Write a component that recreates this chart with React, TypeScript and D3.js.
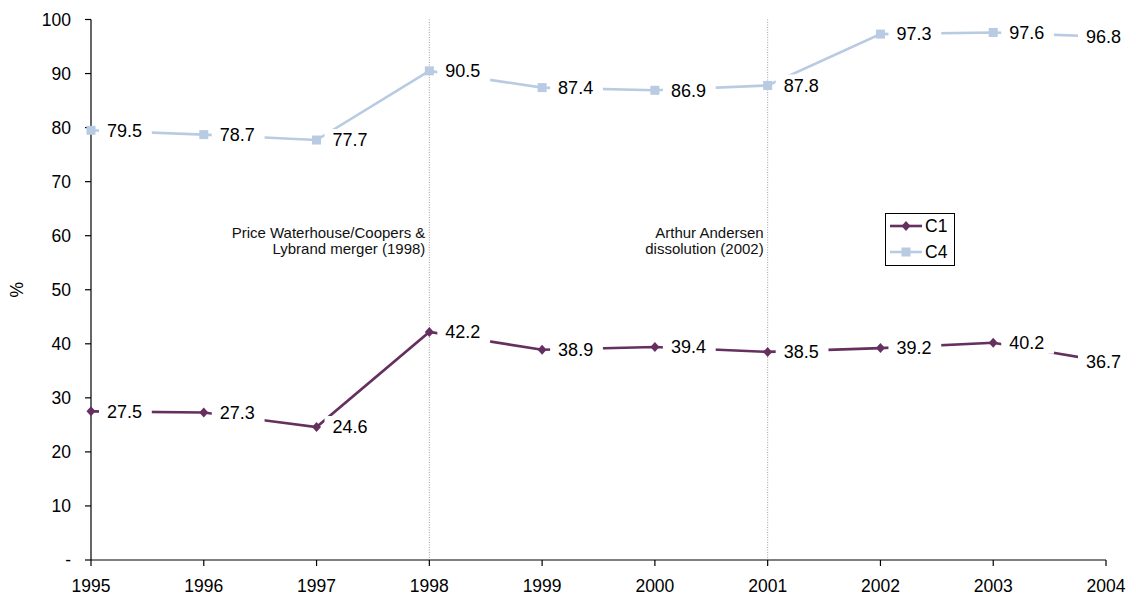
import React from "react";
import * as d3 from "d3";

const years = [1995, 1996, 1997, 1998, 1999, 2000, 2001, 2002, 2003, 2004];
const c1 = [27.5, 27.3, 24.6, 42.2, 38.9, 39.4, 38.5, 39.2, 40.2, 36.7];
const c4 = [79.5, 78.7, 77.7, 90.5, 87.4, 86.9, 87.8, 97.3, 97.6, 96.8];
const yTicks = [0, 10, 20, 30, 40, 50, 60, 70, 80, 90, 100];
const events = [
  { year: 1998, lines: ["Price Waterhouse/Coopers &", "Lybrand merger (1998)"] },
  { year: 2001, lines: ["Arthur Andersen", "dissolution (2002)"] },
];
const seriesNames = ["C1", "C4"];

const W = 1136;
const H = 596;
const FONT = "'Liberation Sans', Arial, sans-serif";
const C1_COLOR = "#65305f";
const C4_COLOR = "#b8cbe2";

export default function App() {
  const x = d3.scaleLinear().domain([1995, 2004]).range([91, 1106]);
  const y = d3.scaleLinear().domain([0, 100]).range([560, 19.5]);
  const line = d3
    .line<number>()
    .x((_, i) => x(years[i]))
    .y((d) => y(d));

  const series = [
    { name: seriesNames[0], data: c1, color: C1_COLOR, marker: "diamond" },
    { name: seriesNames[1], data: c4, color: C4_COLOR, marker: "square" },
  ];

  const labelW = (s: string) => s.length * 9.2;

  const marker = (type: string, cx: number, cy: number, color: string, key: string) =>
    type === "diamond" ? (
      <path
        key={key}
        d={`M${cx},${cy - 5} L${cx + 4.5},${cy} L${cx},${cy + 5} L${cx - 4.5},${cy} Z`}
        fill={color}
      />
    ) : (
      <rect key={key} x={cx - 4.5} y={cy - 4.5} width={9} height={9} fill={color} />
    );

  return (
    <svg
      width={W}
      height={H}
      style={{ position: "absolute", left: 0, top: 0, background: "#fff" }}
      fontFamily={FONT}
    >
      {/* event lines */}
      {events.map((e) => (
        <line
          key={e.year}
          x1={x(e.year)}
          x2={x(e.year)}
          y1={y(100)}
          y2={y(0)}
          stroke="#a0a0a0"
          strokeWidth={1}
          strokeDasharray="1,1.5"
        />
      ))}
      {events.map((e) => (
        <text key={"t" + e.year} fontSize={15} fill="#111" textAnchor="end">
          {e.lines.map((l, i) => (
            <tspan key={i} x={x(e.year) - 4} y={238 + i * 15.5}>
              {l}
            </tspan>
          ))}
        </text>
      ))}

      {/* axes */}
      <line x1={x(1995)} x2={x(1995)} y1={y(100)} y2={y(0)} stroke="#000" strokeWidth={1.2} />
      <line x1={x(1995)} x2={x(2004)} y1={y(0)} y2={y(0)} stroke="#000" strokeWidth={1.2} />
      {yTicks.map((t) => (
        <g key={"y" + t}>
          <line x1={x(1995) - 6} x2={x(1995)} y1={y(t)} y2={y(t)} stroke="#000" strokeWidth={1.2} />
          <text
            x={71}
            y={y(t)}
            dy="0.35em"
            fontSize={17.5}
            textAnchor="end"
            fill="#000"
          >
            {t === 0 ? "-" : t}
          </text>
        </g>
      ))}
      {years.map((yr) => (
        <g key={"x" + yr}>
          <line x1={x(yr)} x2={x(yr)} y1={y(0)} y2={y(0) + 6} stroke="#000" strokeWidth={1.2} />
          <text x={x(yr)} y={592} fontSize={17.5} textAnchor="middle" fill="#000">
            {yr}
          </text>
        </g>
      ))}
      <text
        transform={`translate(23,${y(50)}) rotate(-90)`}
        fontSize={17.5}
        textAnchor="middle"
        fill="#000"
      >
        %
      </text>

      {/* series */}
      {series.map((s) => (
        <g key={s.name}>
          <path d={line(s.data) || ""} fill="none" stroke={s.color} strokeWidth={2.6} />
          {s.data.map((v, i) => marker(s.marker, x(years[i]), y(v), s.color, s.name + i))}
        </g>
      ))}
      {series.map((s) =>
        s.data.map((v, i) => {
          const px = x(years[i]);
          const py = y(v);
          const label = v.toFixed(1);
          const w = labelW(label);
          const tx = i === years.length - 1 ? px - 20 : px + 16;
          return (
            <g key={"l" + s.name + i}>
              <rect x={tx - 8} y={py - 11} width={w + 16} height={22} fill="#fff" />
              <text x={tx} y={py} dy="0.35em" fontSize={18} fill="#000">
                {label}
              </text>
            </g>
          );
        })
      )}

      {/* legend */}
      <rect x={885.5} y={213.5} width={69} height={52} fill="#fff" stroke="#000" strokeWidth={1} />
      {series.map((s, i) => {
        const ly = 226 + i * 26;
        return (
          <g key={"lg" + s.name}>
            <line x1={890} x2={922} y1={ly} y2={ly} stroke={s.color} strokeWidth={2.6} />
            {marker(s.marker, 906, ly, s.color, "lm" + i)}
            <text x={925} y={ly} dy="0.35em" fontSize={17.5} fill="#000">
              {s.name}
            </text>
          </g>
        );
      })}
    </svg>
  );
}
